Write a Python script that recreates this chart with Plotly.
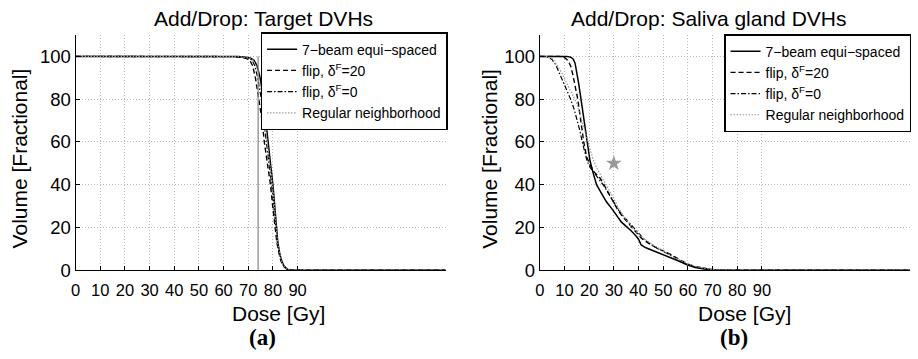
import plotly.graph_objects as go

# ---------------- data ----------------
# Panel (a): Target DVHs
tgt_solid_dose = [0, 60, 66, 69, 71, 72.3, 73.6, 74.8, 76.2, 77.1, 77.9, 79, 80, 80.7, 81.3, 82, 82.7, 83.5, 84.4, 85.5, 86.5, 88, 150]
tgt_vol        = [100, 100, 99.9, 99.6, 99.1, 98.3, 95.5, 90, 80, 70, 60, 50, 40, 30, 20, 13, 8.2, 4.5, 2.2, 0.8, 0.2, 0, 0]
tgt_f20_dose   = [0, 58, 64, 67, 69, 70.6, 71.8, 72.9, 74.4, 75.6, 76.5, 77.8, 79.0, 79.9, 80.8, 81.6, 82.4, 83.2, 84.1, 85.2, 86.2, 87.5, 150]
tgt_f0_dose    = [0, 59, 65, 68, 70, 71.5, 72.7, 73.8, 75.3, 76.3, 77.2, 78.4, 79.5, 80.3, 81.0, 81.8, 82.5, 83.3, 84.2, 85.3, 86.3, 87.8, 150]
tgt_reg_dose   = [0, 59.5, 65.5, 68.5, 70.5, 72, 73.2, 74.3, 75.8, 76.7, 77.6, 78.7, 79.8, 80.5, 81.2, 81.9, 82.6, 83.4, 84.3, 85.4, 86.4, 88, 150]
tgt_presc_dose = [74, 74]
tgt_presc_vol  = [0, 100]

# Panel (b): Saliva gland DVHs
sal_solid_dose = [0, 11, 12.5, 13.5, 14.3, 15, 15.8, 16.7, 18, 19.3, 20.3, 21.5, 23, 25, 27, 29.7, 31.5, 33, 35, 37, 39, 40, 41.1, 43, 46.5, 50, 53.2, 56.5, 59.9, 63, 66.6, 70, 74, 150]
sal_solid_vol  = [100, 100, 99.6, 98.8, 96.8, 93, 87, 80, 70, 60, 51.5, 46, 40, 36, 32, 28, 25, 22.6, 20.5, 18.5, 16, 14.5, 11.8, 10.5, 8.9, 7.3, 5.9, 4.2, 2.4, 1.3, 0.6, 0.2, 0, 0]
sal_f20_dose   = [0, 8, 10, 11.5, 12.5, 13.5, 14.5, 15.4, 16.6, 17.8, 19, 20.5, 22, 24.5, 26, 28, 30, 31.7, 34, 36.5, 38.5, 41.2, 43.5, 46.5, 50, 53, 56.5, 60, 63, 66.6, 70, 75, 150]
sal_f20_vol    = [100, 100, 99.5, 98, 95.5, 91, 85, 80, 70, 60, 53, 49, 46, 43, 40, 36, 32, 28, 24.5, 21, 18.5, 15, 13, 11, 9, 7.4, 5, 2.9, 1.7, 0.9, 0.3, 0, 0]
sal_f0_dose    = [0, 3, 5, 6.5, 8, 9.5, 11, 12.5, 14, 15.2, 16.3, 17.2, 18.2, 19.2, 20.5, 22, 24, 26, 28, 30, 32, 34.5, 37, 39.5, 42, 44.5, 47.5, 51, 54, 57, 60, 63, 66.6, 70, 75, 150]
sal_f0_vol     = [100, 99.8, 98.5, 96, 92, 88, 84, 80, 75, 70, 65, 60, 55, 51, 48, 45.5, 42.5, 39.5, 35.5, 31.5, 28, 24.5, 21, 18, 14.8, 12.5, 10.3, 8.2, 6.5, 4.3, 2.6, 1.5, 0.7, 0.2, 0, 0]
sal_reg_dose   = [0, 3, 5, 7, 9, 11, 13, 15, 16.5, 18, 19.5, 20.7, 21.7, 23, 25, 27, 29, 30.5, 32.4, 35, 37, 39.5, 42, 45, 48, 51, 54, 57, 60, 63, 66.6, 70, 76, 150]
sal_reg_vol    = [100, 99.9, 99, 96, 92, 87.5, 83, 78, 72, 66, 60, 55, 51.5, 48, 44, 40, 36, 32.4, 28, 24, 20.5, 17.5, 15, 12.5, 10.2, 8.3, 6.3, 4.5, 3, 1.8, 0.9, 0.3, 0, 0]
sal_goal_dose  = [30]
sal_goal_vol   = [50]

series_names = ["7\u2212beam equi\u2212spaced", "flip, \u03b4<sup>F</sup>=20",
                "flip, \u03b4<sup>F</sup>=0", "Regular neighborhood"]
x_ticks = [0, 10, 20, 30, 40, 50, 60, 70, 80, 90]
y_ticks = [0, 20, 40, 60, 80, 100]

# ---------------- styles ----------------
W, H = 918, 359
FONT = "Liberation Sans, Arial, Helvetica, sans-serif"
styles = [
    dict(color="black", width=1.5, dash="solid"),
    dict(color="black", width=1.4, dash="5px,3px"),
    dict(color="black", width=1.2, dash="5px,2px,1.5px,2px"),
    dict(color="#9a9a9a", width=1.2, dash="1.5px,1.5px"),
]

fig = go.Figure()

def add_panel(xs, ys, xa, ya, legend):
    for i, (x, y) in enumerate(zip(xs, ys)):
        fig.add_trace(go.Scatter(x=x, y=y, mode="lines", name=series_names[i],
                                 line=styles[i], xaxis=xa, yaxis=ya,
                                 legend=legend, showlegend=True))

add_panel([tgt_solid_dose, tgt_f20_dose, tgt_f0_dose, tgt_reg_dose],
          [tgt_vol, tgt_vol, tgt_vol, tgt_vol], "x", "y", "legend")
fig.add_trace(go.Scatter(x=tgt_presc_dose, y=tgt_presc_vol, mode="lines",
                         line=dict(color="#8c8c8c", width=1.3), xaxis="x", yaxis="y",
                         showlegend=False, hoverinfo="skip"))

add_panel([sal_solid_dose, sal_f20_dose, sal_f0_dose, sal_reg_dose],
          [sal_solid_vol, sal_f20_vol, sal_f0_vol, sal_reg_vol], "x2", "y2", "legend2")
fig.add_trace(go.Scatter(x=sal_goal_dose, y=sal_goal_vol, mode="markers",
                         marker=dict(symbol="star", size=12, color="#9a9a9a"),
                         xaxis="x2", yaxis="y2", showlegend=False, hoverinfo="skip"))

def px_x(p):
    return p / W

def px_y(p):
    return 1 - p / H

xdom1 = [px_x(71), px_x(443)]
xdom2 = [px_x(537.7), px_x(910)]
ydom = [px_y(278), px_y(36)]

axis_common = dict(showline=True, linecolor="black", linewidth=1, ticks="inside",
                   ticklen=4, tickcolor="black", showgrid=True, gridcolor="#b8b8b8",
                   gridwidth=1, griddash="1px,2px", zeroline=False, mirror=False)
xax = dict(axis_common, range=[0, 150], tickvals=x_ticks, ticktext=[str(v) for v in x_ticks],
           tickfont=dict(family=FONT, size=16.5, color="black"), ticklabelstandoff=5)
yax = dict(axis_common, range=[0, 110], tickvals=y_ticks, ticktext=[str(v) for v in y_ticks],
           tickfont=dict(family=FONT, size=18.5, color="black"))

legend_common = dict(bgcolor="white", bordercolor="black", borderwidth=1.5,
                     font=dict(family=FONT, size=14, color="black"),
                     xanchor="right", yanchor="top", tracegroupgap=0, itemwidth=30)

annotations = [
    dict(text="Add/Drop: Target DVHs", x=px_x(260), y=px_y(19)),
    dict(text="Add/Drop: Saliva gland DVHs", x=px_x(707), y=px_y(19)),
    dict(text="Dose [Gy]", x=px_x(275), y=px_y(322)),
    dict(text="Dose [Gy]", x=px_x(744), y=px_y(322)),
    dict(text="Volume [Fractional]", x=px_x(15), y=px_y(163), textangle=-90),
    dict(text="Volume [Fractional]", x=px_x(487), y=px_y(163), textangle=-90),
]
ann = []
for a in annotations:
    a.update(xref="paper", yref="paper", showarrow=False, xanchor="center",
             yanchor="middle", font=dict(family=FONT, size=21, color="black"))
    ann.append(a)
for lab, cx in [("<b>(a)</b>", 259), ("<b>(b)</b>", 733)]:
    ann.append(dict(text=lab, x=px_x(cx), y=px_y(347), xref="paper", yref="paper",
                    showarrow=False, xanchor="center", yanchor="middle",
                    font=dict(family="Liberation Serif, Times New Roman, serif", size=23, color="black")))

fig.update_layout(
    width=W, height=H, margin=dict(l=0, r=0, t=0, b=0),
    paper_bgcolor="white", plot_bgcolor="white",
    xaxis=dict(xax, domain=xdom1, anchor="y"),
    yaxis=dict(yax, domain=ydom, anchor="x"),
    xaxis2=dict(xax, domain=xdom2, anchor="y2"),
    yaxis2=dict(yax, domain=ydom, anchor="x2"),
    legend=dict(legend_common, x=px_x(445), y=px_y(33)),
    legend2=dict(legend_common, x=px_x(911), y=px_y(35)),
    annotations=ann,
    showlegend=True,
)

fig.write_html("out.html")
